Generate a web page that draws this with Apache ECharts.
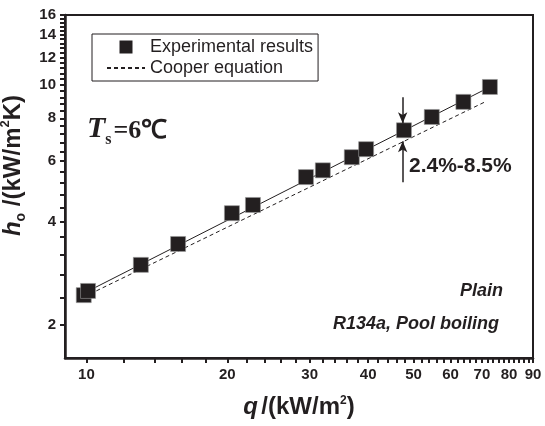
<!DOCTYPE html>
<html><head><meta charset="utf-8">
<script src="https://cdn.jsdelivr.net/npm/echarts@6/dist/echarts.min.js"></script>
<style>html,body{margin:0;padding:0;background:#fff}#c{width:545px;height:426px}</style>
</head><body><div id="c"></div>
<script>
// Experimental data (q in kW/m2, h in kW/m2K)
const expQ = [9.87, 10.08, 13.07, 15.7, 20.46, 22.69, 29.45, 32.0, 36.9, 39.6, 47.7, 54.7, 63.9, 72.8];
const expH = [2.44, 2.51, 2.99, 3.44, 4.23, 4.47, 5.39, 5.64, 6.16, 6.50, 7.38, 8.07, 8.93, 9.87];
// Fitted line through experimental data (solid)
const fitQ = [9.87, 72.8];
const fitH = [2.47, 9.87];
// Cooper equation (dashed)
const cooperQ = [9.87, 71.1];
const cooperH = [2.41, 8.93];
// Deviation arrows
const arrowQ = 47.4;
const arrowDownH = [9.21, 7.74];
const arrowUpH = [5.21, 6.86];
// Axes
const xMin = 9, xMax = 90;
const yMin = 1.6, yMax = 16;
const xTickLabels = [10, 20, 30, 40, 50, 60, 70, 80, 90];
const xTicks = [10,12,14,16,18,20,22,24,26,28,30,32,34,36,38,40,42,44,46,48,50,52,54,56,58,60,62,64,66,68,70,72,74,76,78,80,82,84,86,88,90];
const yTickLabels = [2, 4, 6, 8, 10, 12, 14, 16];
const yTicks = [2,2.4,2.8,3.2,3.6,4,4.4,4.8,5.2,5.6,6,6.4,6.8,7.2,7.6,8,8.4,8.8,9.2,9.6,10,10.4,10.8,11.2,11.6,12,12.4,12.8,13.2,13.6,14,14.4,14.8,15.2,15.6,16];

const black = '#231f20';
const sans = "'Liberation Sans', Arial, sans-serif";
const serif = "'Liberation Serif', 'Times New Roman', serif";

const chart = echarts.init(document.getElementById('c'), null, {renderer: 'canvas'});
const option = {
  animation: false,
  backgroundColor: '#fff',
  grid: {left: 65, right: 12, top: 15, bottom: 68, outerBoundsMode: 'none', containLabel: false,
         show: true, borderColor: black, borderWidth: 2, backgroundColor: 'transparent'},
  legend: {
    orient: 'vertical', left: 92, top: 34,
    padding: [4, 5, 4, 14],
    borderColor: black, borderWidth: 1,
    itemWidth: 38, itemHeight: 13, itemGap: 3,
    textStyle: {fontFamily: sans, fontSize: 18, color: black, lineHeight: 18},
    data: [
      {name: 'Experimental results', icon: 'path://M0,0L10,0L10,10L0,10Z', itemStyle: {color: black, borderWidth: 0}},
      {name: 'Cooper equation', itemStyle: {color: 'rgba(0,0,0,0)', borderColor: 'rgba(0,0,0,0)', borderWidth: 0}}
    ]
  },
  xAxis: {
    type: 'log', logBase: 10, min: xMin, max: xMax,
    axisLine: {lineStyle: {color: black, width: 2.5}},
    axisTick: {show: true, customValues: xTicks, length: 5, lineStyle: {color: black, width: 2}},
    axisLabel: {customValues: xTickLabels, fontSize: 15, fontWeight: 'bold', color: black, fontFamily: sans, margin: 9},
    splitLine: {show: false},
    minorTick: {show: false},
    name: '{q|q} {b|/(kW/m}{sup|2}{b|)}',
    nameLocation: 'middle', nameGap: 35,
    nameTextStyle: {
      rich: {
        q: {fontFamily: sans, fontSize: 24, fontWeight: 'bold', fontStyle: 'italic', color: black, lineHeight: 26, verticalAlign: 'bottom'},
        b: {fontFamily: sans, fontSize: 24, fontWeight: 'bold', color: black, lineHeight: 26, verticalAlign: 'bottom'},
        sup: {fontFamily: sans, fontSize: 12, fontWeight: 'bold', color: black, lineHeight: 26, verticalAlign: 'top', padding: [2, 0, 0, 0]}
      }
    }
  },
  yAxis: {
    type: 'log', logBase: 10, min: yMin, max: yMax,
    axisLine: {lineStyle: {color: black, width: 2.5}},
    axisTick: {show: true, customValues: yTicks, length: 5, lineStyle: {color: black, width: 2}},
    axisLabel: {customValues: yTickLabels, fontSize: 15, fontWeight: 'bold', color: black, fontFamily: sans, margin: 9},
    splitLine: {show: false},
    minorTick: {show: false},
    name: '{h|h}{sub|o}{b| /(kW/m}{sup|2}{b|K)}',
    nameLocation: 'middle', nameGap: 25,
    nameTextStyle: {
      padding: [0, 0, 0, 42],
      rich: {
        h: {fontFamily: sans, fontSize: 24, fontWeight: 'bold', fontStyle: 'italic', color: black, lineHeight: 28, verticalAlign: 'bottom'},
        sub: {fontFamily: sans, fontSize: 14, fontWeight: 'bold', color: black, lineHeight: 28, verticalAlign: 'bottom', padding: [0, 0, -3, 0]},
        b: {fontFamily: sans, fontSize: 24, fontWeight: 'bold', color: black, lineHeight: 28, verticalAlign: 'bottom'},
        sup: {fontFamily: sans, fontSize: 13, fontWeight: 'bold', color: black, lineHeight: 28, verticalAlign: 'top', padding: [2, 0, 0, 0]}
      }
    }
  },
  series: [
    {
      name: 'Fit', type: 'line', data: fitQ.map((q, i) => [q, fitH[i]]),
      symbol: 'none', lineStyle: {color: black, width: 1}, z: 2,
      markLine: {
        silent: true, symbolSize: [7, 11], label: {show: false},
        lineStyle: {color: black, width: 1.5, type: 'solid'},
        data: [
          [{coord: [arrowQ, arrowDownH[0]], symbol: 'none'}, {coord: [arrowQ, arrowDownH[1]], symbol: 'arrow'}],
          [{coord: [arrowQ, arrowUpH[0]], symbol: 'none'}, {coord: [arrowQ, arrowUpH[1]], symbol: 'arrow'}]
        ]
      }
    },
    {
      name: 'Cooper equation', type: 'line', data: cooperQ.map((q, i) => [q, cooperH[i]]),
      symbol: 'circle', showSymbol: false,
      lineStyle: {color: black, width: 1, type: [4, 3]},
      itemStyle: {color: 'rgba(0,0,0,0)', borderColor: 'rgba(0,0,0,0)', borderWidth: 0}, z: 2
    },
    {
      name: 'Experimental results', type: 'scatter', data: expQ.map((q, i) => [q, expH[i]]),
      symbol: 'rect', symbolSize: 15,
      itemStyle: {color: black, opacity: 1, borderColor: '#999', borderWidth: 0.6}, z: 3
    }
  ],
  graphic: [
    {type: 'text', left: 87, top: 114, style: {
      text: '{t|T}{s|s}{e|=6℃}',
      rich: {
        t: {fontFamily: serif, fontSize: 30, fontWeight: 'bold', fontStyle: 'italic', fill: black, lineHeight: 32, verticalAlign: 'bottom'},
        s: {fontFamily: serif, fontSize: 16, fontWeight: 'bold', fill: black, lineHeight: 32, verticalAlign: 'bottom', padding: [0, 2, -4, 0]},
        e: {fontFamily: serif, fontSize: 26, fontWeight: 'bold', fill: black, lineHeight: 32, verticalAlign: 'bottom'}
      }
    }},
    {type: 'text', left: 409, top: 156, style: {text: '2.4%-8.5%', font: "bold 21px 'Liberation Sans', Arial", fill: black}},
    {type: 'text', left: 460, top: 282, style: {text: 'Plain', font: "italic bold 18px 'Liberation Sans', Arial", fill: black}},
    {type: 'text', left: 333, top: 315, style: {text: 'R134a, Pool boiling', font: "italic bold 18px 'Liberation Sans', Arial", fill: black}}
  ]
};
chart.setOption(option);
</script>
</body></html>
